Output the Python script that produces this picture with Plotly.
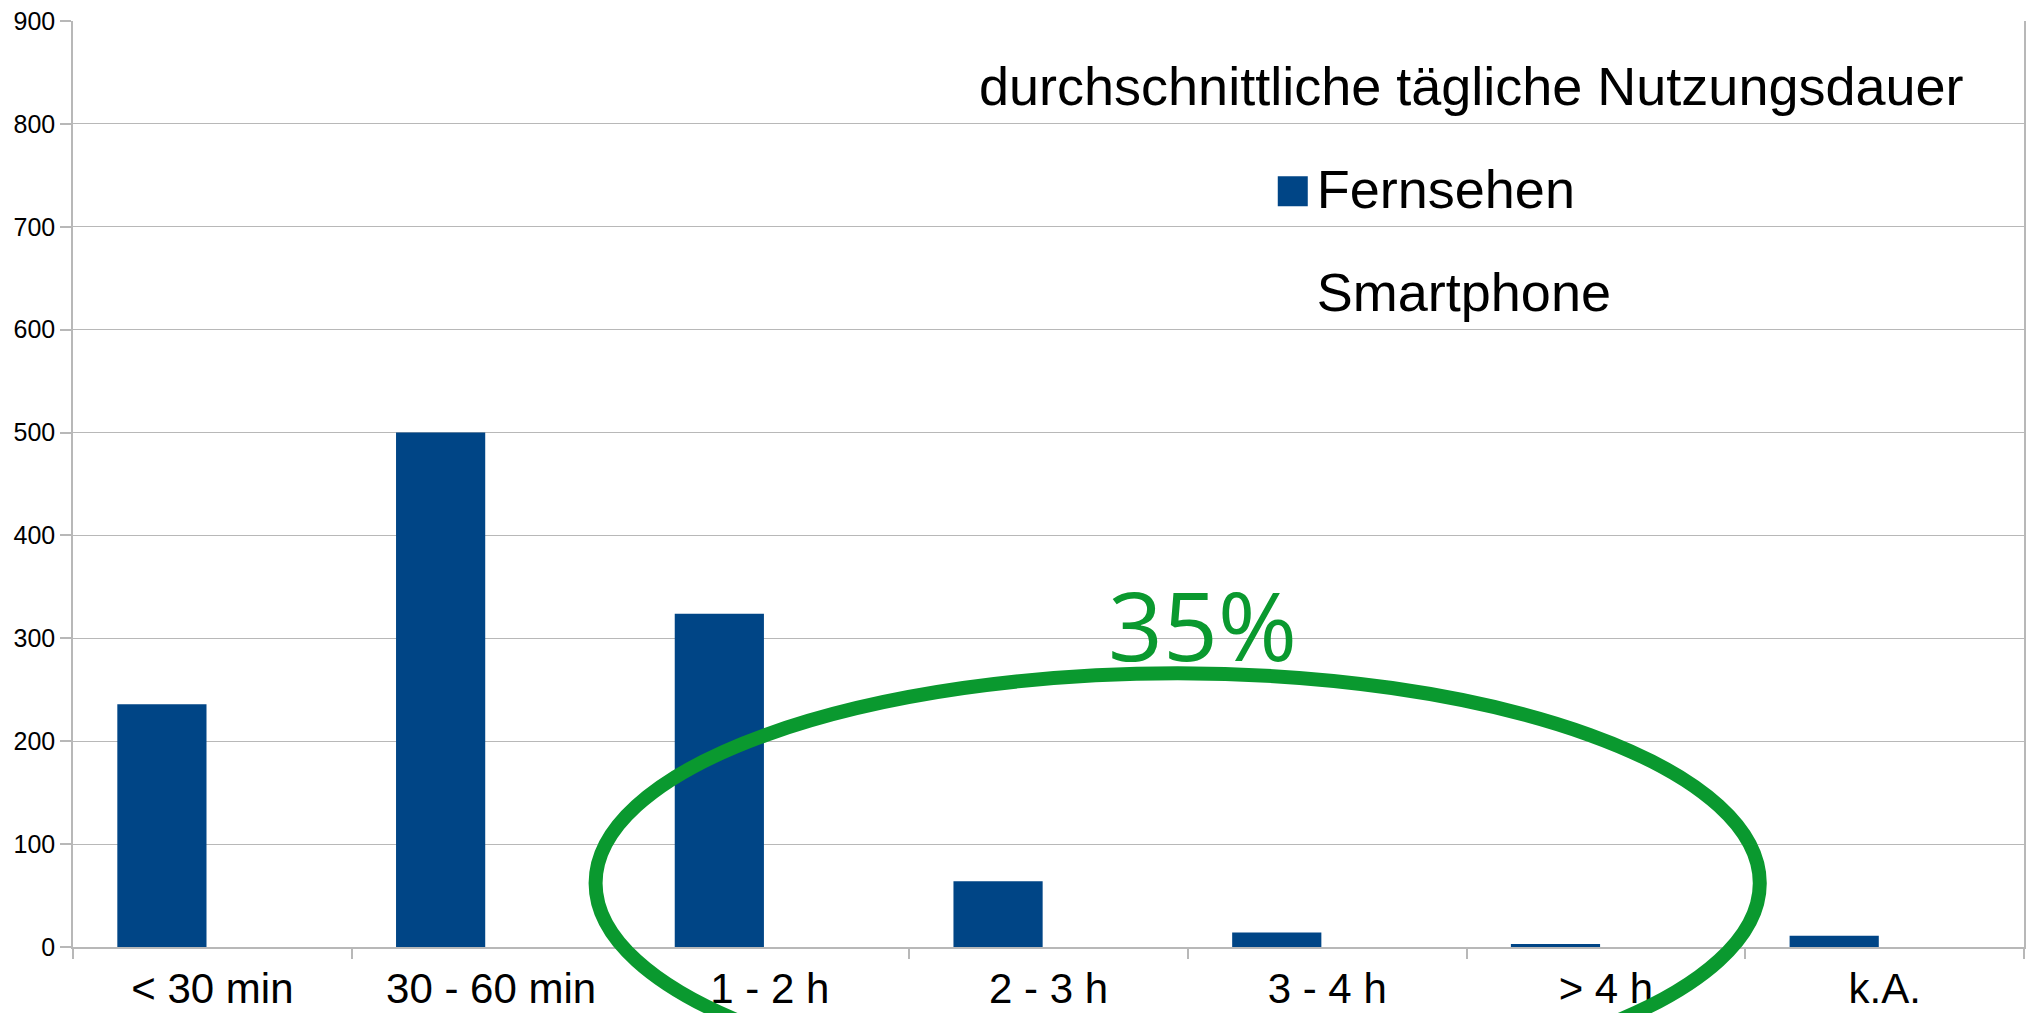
import plotly.graph_objects as go

categories = ["< 30 min", "30 - 60 min", "1 - 2 h", "2 - 3 h", "3 - 4 h", "> 4 h", "k.A."]
fernsehen = [236, 500, 324, 64, 14, 3, 11]
smartphone = [None, None, None, None, None, None, None]
y_ticks = [0, 100, 200, 300, 400, 500, 600, 700, 800, 900]

title_text = "durchschnittliche tägliche Nutzungsdauer"
note_text = "35%"

# ellipse highlight, expressed in category index / value units
ell_cat = (1.375, 5.552)
ell_val = (-142, 266)

Y_MAX = 900
N = len(categories)

def px(c):
    return (c + 0.5) / N

def py(v):
    return v / Y_MAX

FONT = "Liberation Sans, Arial, sans-serif"
GRID = "#b8b8b8"

fig = go.Figure()
fig.add_trace(go.Bar(
    x=categories, y=fernsehen, name="Fernsehen",
    marker=dict(color="#004586", line=dict(width=0)),
    width=0.32, offset=-0.341,
    legendgroup="a",
))
fig.add_trace(go.Bar(
    x=categories, y=smartphone, name="Smartphone",
    marker=dict(color="rgba(0,0,0,0)", line=dict(width=0)),
    width=0.32, offset=-0.021,
    legendgroup="b",
))

fig.update_layout(
    width=2030, height=1013,
    margin=dict(l=73, r=6, t=21, b=66),
    paper_bgcolor="white", plot_bgcolor="white",
    font=dict(family=FONT, color="black"),
    barmode="group",
    showlegend=True,
    legend=dict(
        x=0.617, xanchor="left", y=0.866, yanchor="top",
        font=dict(size=54, family=FONT, color="black"),
        traceorder="grouped", tracegroupgap=30,
        bgcolor="rgba(0,0,0,0)",
    ),
    xaxis=dict(
        type="category", categoryorder="array", categoryarray=categories,
        range=[-0.5, N - 0.5], automargin=False,
        showgrid=False, showline=True, linecolor=GRID, linewidth=1.5,
        ticks="outside", tickson="boundaries", ticklen=10, tickcolor=GRID, tickwidth=1.5,
        tickfont=dict(size=42, family=FONT, color="black"),
        ticklabelstandoff=4,
        mirror=False,
    ),
    yaxis=dict(
        range=[0, Y_MAX], tickvals=y_ticks, automargin=False,
        showgrid=True, gridcolor=GRID, gridwidth=1.2,
        showline=True, linecolor=GRID, linewidth=1.5, mirror=True,
        ticks="outside", ticklen=11, tickcolor=GRID, tickwidth=1.5,
        tickfont=dict(size=25, family=FONT, color="black"),
        zeroline=False,
    ),
    annotations=[
        dict(text=title_text, xref="paper", yref="paper", x=0.717, y=0.930,
             xanchor="center", yanchor="middle", showarrow=False,
             font=dict(size=54, family=FONT, color="black")),
        dict(text=note_text, xref="paper", yref="paper", x=0.579, y=0.3495,
             xanchor="center", yanchor="middle", showarrow=False,
             font=dict(size=96, family="Open Sans, Noto Sans, sans-serif", color="#0a992f")),
    ],
    shapes=[
        dict(type="circle", xref="paper", yref="paper", layer="above",
             x0=px(ell_cat[0]), x1=px(ell_cat[1]), y0=py(ell_val[0]), y1=py(ell_val[1]),
             line=dict(color="#0a992f", width=14), fillcolor="rgba(0,0,0,0)"),
    ],
)

post = (
    "document.body.style.margin='0';document.body.style.overflow='hidden';"
    "document.querySelectorAll('.legendpoints path').forEach(function(p){"
    "p.setAttribute('d','M11,19.5H-19V-10.5H11Z');});"
)

fig.write_html("out.html", config={"displayModeBar": False}, post_script=post)
